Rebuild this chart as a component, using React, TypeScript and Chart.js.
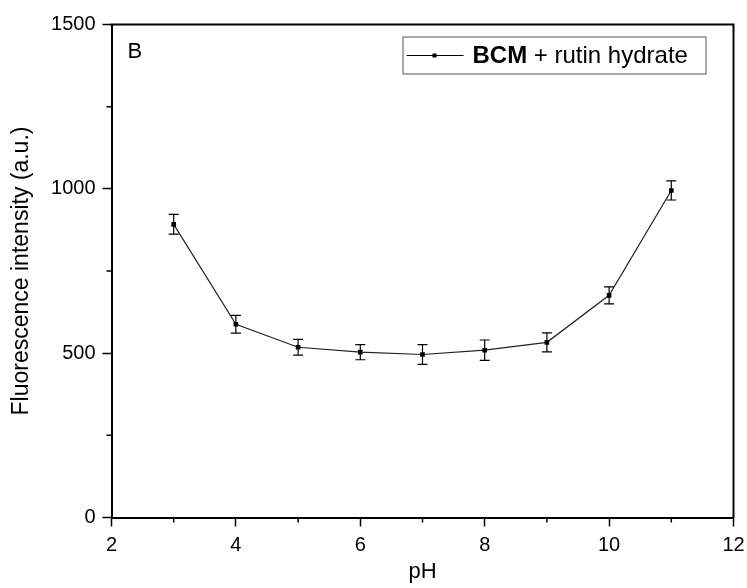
import { useEffect, useRef } from "react";
import { Chart, registerables } from "chart.js";

Chart.register(...registerables);

const phValues = [3, 4, 5, 6, 7, 8, 9, 10, 11];
const intensity = [892, 588, 518, 503, 496, 509, 533, 676, 995];
const errorValues = [30, 27, 24, 23, 30, 31, 29, 26, 29];
const xMinorTicks = [3, 5, 7, 9, 11];
const yMinorTicks = [250, 750, 1250];
const seriesLabelBold = "BCM";
const seriesLabelRest = " + rutin hydrate";
const panelLabel = "B";
const xTitle = "pH";
const yTitle = "Fluorescence intensity (a.u.)";

const FONT = "'Liberation Sans', Arial, Helvetica, sans-serif";

const decorPlugin = {
  id: "decor",
  beforeDatasetsDraw(chart: any) {
    const ctx = chart.ctx;
    const x = chart.scales.x;
    const y = chart.scales.y;
    ctx.save();
    ctx.strokeStyle = "#000";
    ctx.lineWidth = 1.2;
    phValues.forEach((p, i) => {
      const px = x.getPixelForValue(p);
      const yt = y.getPixelForValue(intensity[i] + errorValues[i]);
      const yb = y.getPixelForValue(intensity[i] - errorValues[i]);
      ctx.beginPath();
      ctx.moveTo(px, yt);
      ctx.lineTo(px, yb);
      ctx.moveTo(px - 5, yt);
      ctx.lineTo(px + 5, yt);
      ctx.moveTo(px - 5, yb);
      ctx.lineTo(px + 5, yb);
      ctx.stroke();
    });
    ctx.restore();
  },
  afterDraw(chart: any) {
    const ctx = chart.ctx;
    const area = chart.chartArea;
    const x = chart.scales.x;
    const y = chart.scales.y;
    ctx.save();
    // frame top and right
    ctx.strokeStyle = "#000";
    ctx.lineWidth = 2;
    ctx.beginPath();
    ctx.moveTo(area.left - 1, area.top);
    ctx.lineTo(area.right, area.top);
    ctx.lineTo(area.right, area.bottom + 1);
    ctx.stroke();
    // minor ticks
    ctx.lineWidth = 1.5;
    ctx.beginPath();
    xMinorTicks.forEach((v) => {
      const px = x.getPixelForValue(v);
      ctx.moveTo(px, area.bottom);
      ctx.lineTo(px, area.bottom + 5);
    });
    yMinorTicks.forEach((v) => {
      const py = y.getPixelForValue(v);
      ctx.moveTo(area.left, py);
      ctx.lineTo(area.left - 5, py);
    });
    ctx.stroke();
    // panel label
    ctx.fillStyle = "#000";
    ctx.font = `22px ${FONT}`;
    ctx.textBaseline = "alphabetic";
    ctx.textAlign = "left";
    ctx.fillText(panelLabel, area.left + 16, area.top + 33);
    // legend
    const lx = area.left + 291;
    const ly = area.top + 12;
    const lw = 303;
    const lh = 37;
    ctx.strokeStyle = "#555";
    ctx.lineWidth = 1;
    ctx.strokeRect(lx + 0.5, ly + 0.5, lw, lh);
    const my = ly + lh / 2 + 0.5;
    ctx.strokeStyle = "#000";
    ctx.beginPath();
    ctx.moveTo(lx + 4, my);
    ctx.lineTo(lx + 61, my);
    ctx.stroke();
    ctx.fillRect(lx + 30, my - 2, 4, 4);
    ctx.textBaseline = "middle";
    ctx.font = `bold 24px ${FONT}`;
    const tx = lx + 70;
    ctx.fillText(seriesLabelBold, tx, my + 1);
    const bw = ctx.measureText(seriesLabelBold).width;
    ctx.font = `24px ${FONT}`;
    ctx.fillText(seriesLabelRest, tx + bw, my + 1);
    ctx.restore();
  },
};

export default function App() {
  const ref = useRef<HTMLCanvasElement | null>(null);
  useEffect(() => {
    if (!ref.current) return;
    const chart = new Chart(ref.current, {
      type: "line",
      data: {
        datasets: [
          {
            label: seriesLabelBold + seriesLabelRest,
            data: phValues.map((p, i) => ({ x: p, y: intensity[i] })),
            borderColor: "#222",
            borderWidth: 1.2,
            pointStyle: "rect",
            pointRadius: 3.3,
            pointBackgroundColor: "#000",
            pointBorderColor: "#000",
            pointBorderWidth: 0,
            tension: 0,
          },
        ],
      },
      options: {
        animation: false,
        responsive: false,
        devicePixelRatio: 1,
        layout: { padding: { left: 0, top: 24.5, right: 13.5, bottom: 0 } },
        plugins: { legend: { display: false }, tooltip: { enabled: false } },
        scales: {
          x: {
            type: "linear",
            min: 2,
            max: 12,
            afterFit(scale: any) {
              scale.height = 70.5;
              scale.paddingLeft = 0;
              scale.paddingRight = 0;
            },
            border: { display: true, color: "#000", width: 2 },
            grid: {
              drawOnChartArea: false,
              drawTicks: true,
              tickLength: 9,
              tickColor: "#000",
              tickWidth: 1.5,
            },
            ticks: {
              stepSize: 2,
              color: "#000",
              font: { family: FONT, size: 20 },
              padding: 7,
              maxRotation: 0,
              callback: (v: any) => String(v),
            },
            title: {
              display: true,
              text: xTitle,
              color: "#000",
              font: { family: FONT, size: 22 },
              padding: { top: 0, bottom: 3 },
            },
          },
          y: {
            type: "linear",
            min: 0,
            max: 1500,
            afterFit(scale: any) {
              scale.width = 111.5;
              scale.paddingTop = 0;
              scale.paddingBottom = 0;
            },
            border: { display: true, color: "#000", width: 2 },
            grid: {
              drawOnChartArea: false,
              drawTicks: true,
              tickLength: 9,
              tickColor: "#000",
              tickWidth: 1.5,
            },
            ticks: {
              stepSize: 500,
              color: "#000",
              font: { family: FONT, size: 20 },
              padding: 7,
              callback: (v: any) => String(v),
            },
            title: {
              display: true,
              text: yTitle,
              color: "#000",
              font: { family: FONT, size: 23 },
              padding: { top: 8, bottom: 0 },
            },
          },
        },
      },
      plugins: [decorPlugin],
    });
    return () => chart.destroy();
  }, []);
  return (
    <div style={{ position: "absolute", left: 0, top: 0, width: 747, height: 588, background: "#fff" }}>
      <canvas ref={ref} width={747} height={588} style={{ display: "block", width: 747, height: 588 }} />
    </div>
  );
}
